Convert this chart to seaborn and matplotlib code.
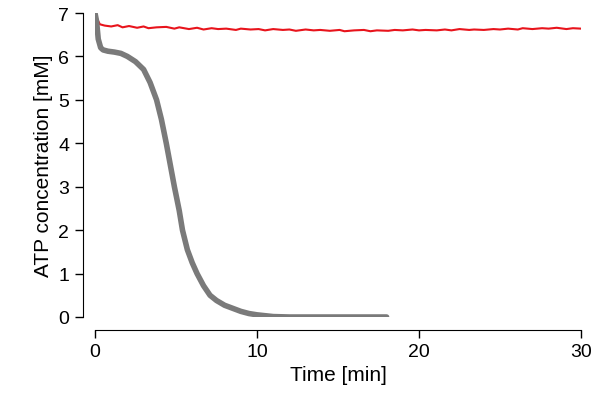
import matplotlib
matplotlib.use("Agg")
import matplotlib.pyplot as plt
import seaborn as sns
import pandas as pd

# gray trace (ATP consumed)
t_gray = [0, 0.1, 0.2, 0.35, 0.5, 0.8, 1.2, 1.6, 2.0, 2.5, 3.0, 3.4, 3.8, 4.1, 4.4, 4.7,
          4.9, 5.2, 5.4, 5.7, 6.0, 6.3, 6.7, 7.1, 7.5, 8.0, 8.5, 9.0, 9.5, 10.0, 10.5,
          11.0, 12.0, 14.0, 16.0, 18.0]
atp_gray = [7.0, 6.8, 6.4, 6.2, 6.15, 6.12, 6.1, 6.07, 6.0, 5.88, 5.7, 5.4, 5.0, 4.55, 4.0,
            3.4, 3.0, 2.45, 2.0, 1.55, 1.25, 1.0, 0.72, 0.5, 0.38, 0.27, 0.2, 0.13, 0.08,
            0.05, 0.03, 0.01, 0.0, 0.0, 0.0, 0.0]

# red trace (ATP regenerated)
t_red = [0, 0.15, 0.3, 0.6, 1.0, 1.4, 1.7, 2.1, 2.6, 3.0, 3.3, 3.8, 4.4, 4.9, 5.2, 5.8, 6.3,
         6.7, 7.2, 7.6, 8.1, 8.7, 9.0, 9.6, 10.1, 10.5, 11.0, 11.6, 12.0, 12.4, 13.0,
         13.5, 13.9, 14.5, 15.1, 15.4, 16.0, 16.6, 17.0, 17.4, 18.1, 18.5, 19.0, 19.6,
         20.0, 20.4, 21.1, 21.6, 22.0, 22.5, 23.1, 23.4, 24.0, 24.6, 25.0, 25.5, 26.1,
         26.4, 27.0, 27.6, 28.0, 28.5, 29.1, 29.5, 30.0]
atp_red = [7.0, 6.85, 6.74, 6.71, 6.69, 6.72, 6.67, 6.7, 6.66, 6.69, 6.65, 6.67, 6.68, 6.64,
           6.67, 6.63, 6.66, 6.62, 6.65, 6.63, 6.64, 6.61, 6.64, 6.62, 6.63, 6.6, 6.63,
           6.61, 6.62, 6.59, 6.62, 6.6, 6.61, 6.59, 6.61, 6.58, 6.6, 6.61, 6.58, 6.6,
           6.59, 6.61, 6.6, 6.62, 6.6, 6.61, 6.6, 6.62, 6.6, 6.63, 6.61, 6.62, 6.61,
           6.63, 6.62, 6.64, 6.62, 6.65, 6.63, 6.65, 6.64, 6.66, 6.63, 6.65, 6.64]

sns.set_style("ticks")
plt.rcParams['font.family'] = ['Liberation Sans', 'DejaVu Sans']

fig = plt.figure(figsize=(6.02, 4.02), dpi=100)
ax = fig.add_axes([95 / 602, 84 / 402, 486 / 602, 304 / 402])

sns.lineplot(data=pd.DataFrame({'t': t_red, 'a': atp_red}), x='t', y='a',
             color='#e8141c', lw=1.5, ax=ax)
sns.lineplot(data=pd.DataFrame({'t': t_gray, 'a': atp_gray}), x='t', y='a',
             color='#7a7a7a', lw=4, ax=ax)

ax.set_xlim(0, 30)
ax.set_ylim(0, 7)
ax.set_xticks([0, 10, 20, 30])
ax.set_yticks(range(8))
ax.spines['left'].set_position(('outward', 9))
ax.spines['bottom'].set_position(('outward', 9))
for s in ['top', 'right']:
    ax.spines[s].set_visible(False)
for s in ['left', 'bottom']:
    ax.spines[s].set_color('black')
ax.tick_params(labelsize=14, length=6, width=1, color='black', labelcolor='black')
ax.set_xlabel("Time [min]", fontsize=15, color='black')
ax.set_ylabel("ATP concentration [mM]", fontsize=15, color='black')
fig.savefig("out.png")
